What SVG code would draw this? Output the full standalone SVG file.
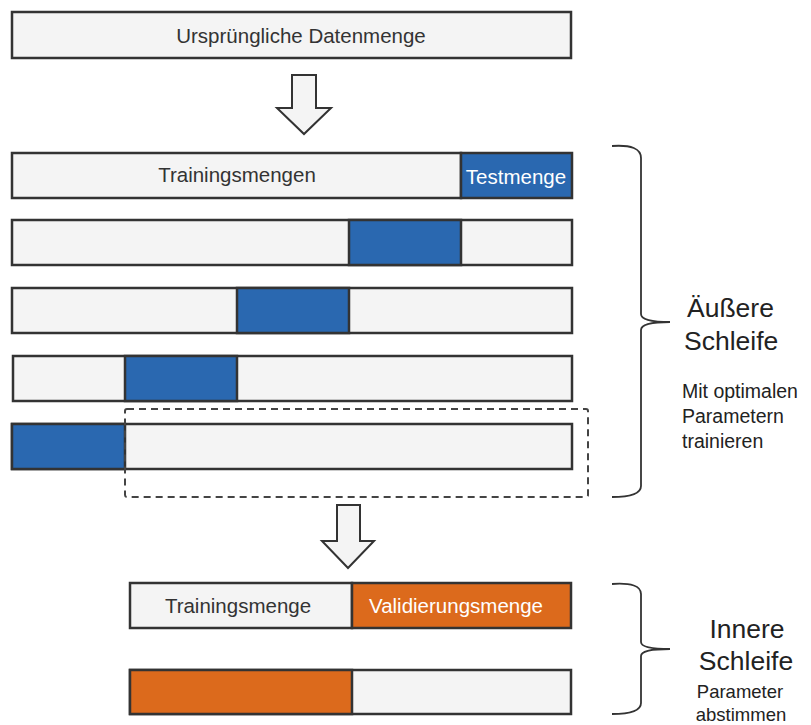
<svg xmlns="http://www.w3.org/2000/svg" width="811" height="725" viewBox="0 0 811 725">
<style>
.box{fill:#f4f4f4;stroke:#333;stroke-width:2.5}
.blue{fill:#2a68b0;stroke:#333;stroke-width:2.5}
.orange{fill:#dc6a1c;stroke:#333;stroke-width:2.5}
.t{font-family:"Liberation Sans",Arial,sans-serif;font-size:20.5px;fill:#333;text-anchor:middle}
.w{fill:#fff}
.big{font-family:"Liberation Sans",Arial,sans-serif;font-size:26.5px;fill:#222}
.small{font-family:"Liberation Sans",Arial,sans-serif;font-size:19.5px;fill:#222}
.small2{font-family:"Liberation Sans",Arial,sans-serif;font-size:18.5px;fill:#222;text-anchor:middle}
.arrow{fill:#f4f4f4;stroke:#333;stroke-width:2}
.brace{fill:none;stroke:#333;stroke-width:1.8}
</style>
<rect width="811" height="725" fill="#fff"/>
<g id="original">
<rect class="box" x="12" y="12" width="559" height="46"/>
<text class="t" x="301" y="43">Ursprüngliche Datenmenge</text>
</g>
<g id="connectors">
<path class="arrow" d="M292,75 H316 V108 H331 L304,134 L277,108 H292 Z"/>
<path class="arrow" d="M337,505 H360 V541 H374 L348,568 L322,541 H337 Z"/>
</g>
<g id="fold1">
<rect class="box" x="12" y="153" width="449" height="45"/>
<rect class="blue" x="461" y="153" width="111" height="45"/>
<text class="t" x="237" y="182">Trainingsmengen</text>
<text class="t w" x="516" y="184">Testmenge</text>
</g>
<g id="fold2">
<rect class="box" x="12" y="220" width="560" height="45"/>
<rect class="blue" x="349" y="220" width="112" height="45"/>
</g>
<g id="fold3">
<rect class="box" x="12" y="288" width="560" height="45"/>
<rect class="blue" x="237" y="288" width="112" height="45"/>
</g>
<g id="fold4">
<rect class="box" x="13" y="356" width="559" height="45"/>
<rect class="blue" x="125" y="356" width="112" height="45"/>
</g>
<g id="fold5">
<rect class="box" x="12" y="424" width="560" height="45"/>
<rect class="blue" x="12" y="424" width="113" height="45"/>
</g>
<g id="dashed">
<rect x="125" y="409" width="463" height="88" rx="2" fill="none" stroke="#444" stroke-width="2" stroke-dasharray="7,5"/>
</g>
<g id="inner1">
<rect class="box" x="130" y="583" width="222" height="45"/>
<rect class="orange" x="352" y="583" width="219" height="45"/>
<text class="t" x="238" y="613">Trainingsmenge</text>
<text class="t w" x="456" y="613">Validierungsmenge</text>
</g>
<g id="inner2">
<rect class="box" x="130" y="670" width="441" height="44"/>
<rect class="orange" x="130" y="670" width="222" height="44"/>
</g>
<g id="outer-brace">
<path class="brace" d="M612,146 Q641,144 641,158 V314 Q641,322 670,322 Q641,322 641,330 V486 Q641,497 612,497"/>
<text class="big" x="687" y="317">Äußere</text>
<text class="big" x="684" y="350">Schleife</text>
<text class="small" x="682" y="398">Mit optimalen</text>
<text class="small" x="682" y="423">Parametern</text>
<text class="small" x="682" y="448">trainieren</text>
</g>
<g id="inner-brace">
<path class="brace" d="M612,584 Q641,582 641,594 V642 Q641,649 670,649 Q641,649 641,656 V703 Q641,714 612,714"/>
<text class="big" x="747" y="638" text-anchor="middle">Innere</text>
<text class="big" x="746" y="670" text-anchor="middle">Schleife</text>
<text class="small2" x="740" y="698">Parameter</text>
<text class="small2" x="741" y="721">abstimmen</text>
</g>
</svg>
